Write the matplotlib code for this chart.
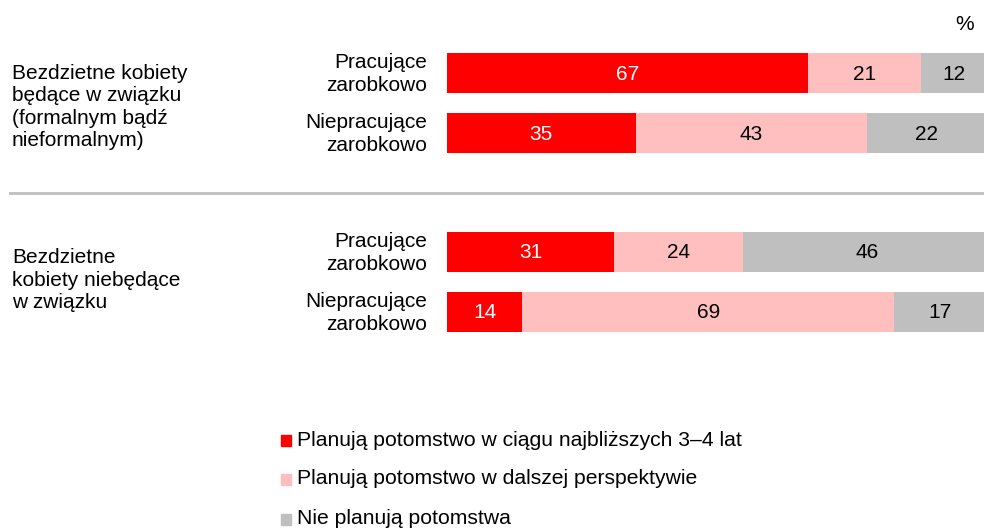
import matplotlib
matplotlib.use("Agg")
import matplotlib.pyplot as plt
import numpy as np

plt.rcParams['font.family'] = ['Liberation Sans', 'DejaVu Sans']

groups = ["Bezdzietne kobiety\nbędące w związku\n(formalnym bądź\nnieformalnym)",
          "Bezdzietne\nkobiety niebędące\nw związku"]
rows = ["Pracujące\nzarobkowo", "Niepracujące\nzarobkowo",
        "Pracujące\nzarobkowo", "Niepracujące\nzarobkowo"]
series_names = ["Planują potomstwo w ciągu najbliższych 3–4 lat",
                "Planują potomstwo w dalszej perspektywie",
                "Nie planują potomstwa"]
near = [67, 35, 31, 14]
later = [21, 43, 24, 69]
none_ = [12, 22, 46, 17]
colors = ["#FF0000", "#FFBFBF", "#BFBFBF"]
text_colors = ["white", "black", "black"]

FS = 15
LS = 1.24
W, H = 984, 528
fig = plt.figure(figsize=(W / 100, H / 100), dpi=100)
ax = fig.add_axes([447 / W, 0, (986 - 447) / W, 1])
ax.set_xlim(0, 100)
ax.set_ylim(H, 0)
ax.axis('off')

ycent = [73, 133, 252, 312]
bh = 40
left = np.zeros(4)
for vals, c, tc in zip([near, later, none_], colors, text_colors):
    vals = np.array(vals, dtype=float)
    ax.barh(ycent, vals, left=left, height=bh, color=c, edgecolor='none')
    for y, l, v in zip(ycent, left, vals):
        ax.text(l + v / 2, y + 1, f"{int(v)}", ha='center', va='center',
                color=tc, fontsize=FS)
    left += vals

# row labels
for y, lab in zip(ycent, rows):
    fig.text(427 / W, 1 - (y + 1) / H, lab, ha='right', va='center',
             fontsize=FS, linespacing=LS)

# group labels
fig.text(12 / W, 1 - 107 / H, groups[0], ha='left', va='center',
         fontsize=FS, linespacing=LS)
fig.text(12 / W, 1 - 280 / H, groups[1], ha='left', va='center',
         fontsize=FS, linespacing=LS)

# separator
fig.add_artist(plt.Line2D([10 / W, 1], [1 - 193 / H, 1 - 193 / H],
                          color='#BFBFBF', lw=2))

# percent sign
fig.text(965 / W, 1 - 24 / H, "%", ha='center', va='center', fontsize=FS)

# legend
ly = [440, 479, 519]
for y, c, name in zip(ly, colors, series_names):
    fig.add_artist(plt.Rectangle((281 / W, 1 - (y + 5.5) / H), 10 / W, 11 / H,
                                 color=c, transform=fig.transFigure))
    fig.text(297 / W, 1 - y / H, name, ha='left', va='center', fontsize=15.2)

fig.savefig("out.png", dpi=100)
